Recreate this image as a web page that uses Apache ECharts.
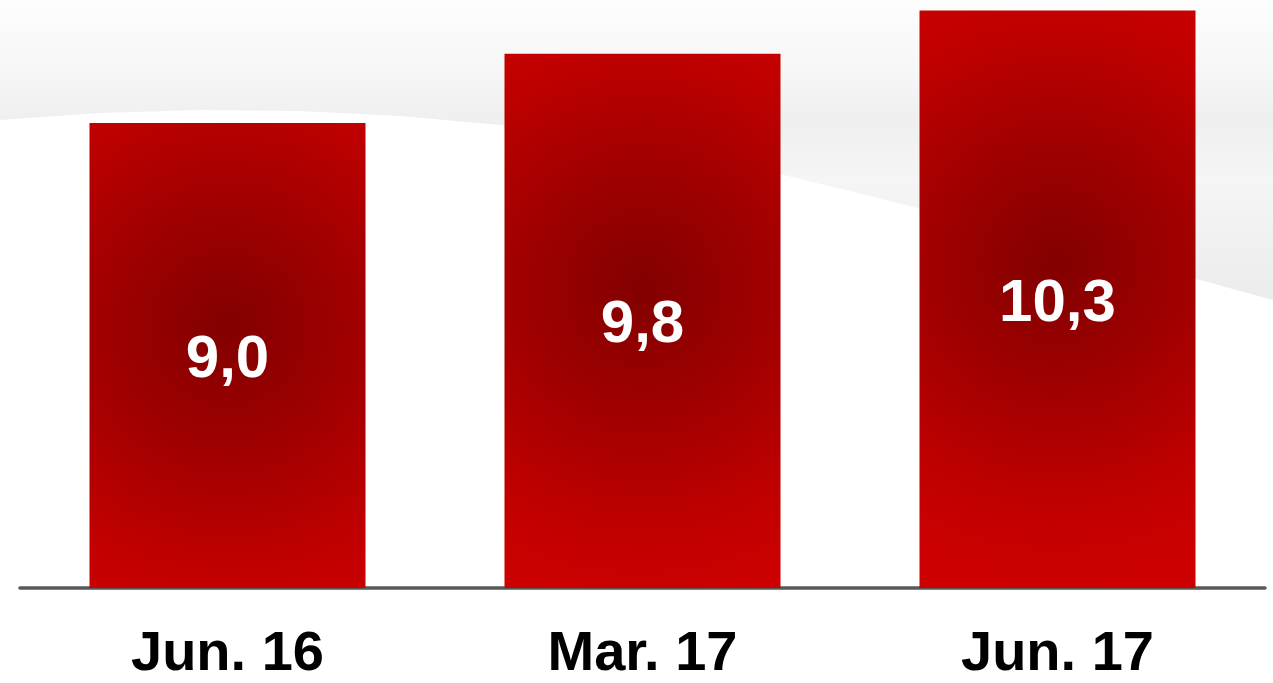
<!DOCTYPE html>
<html>
<head>
<meta charset="utf-8">
<script src="https://cdn.jsdelivr.net/npm/echarts@6/dist/echarts.min.js"></script>
<style>
html,body{margin:0;padding:0;background:#ffffff;}
#chart{width:1273px;height:683px;}
</style>
</head>
<body>
<div id="chart"></div>
<script>
const categories = ['Jun. 16', 'Mar. 17', 'Jun. 17'];
const values = [9.0, 9.8, 10.3];

const chart = echarts.init(document.getElementById('chart'), null, {renderer: 'canvas'});

const barGradient = {
  type: 'radial', x: 0.5, y: 0.44, r: 1.15,
  colorStops: [
    {offset: 0, color: '#820000'},
    {offset: 0.43, color: '#a40000'},
    {offset: 0.78, color: '#c20000'},
    {offset: 1, color: '#cc0000'}
  ]
};

const option = {
  backgroundColor: '#ffffff',
  animation: false,
  graphic: [
    {
      type: 'polygon',
      z: -10,
      silent: true,
      shape: {
        points: [[0,0],[1273,0],[1273,300],[1200,280],[1100,255],[1000,229],[925,210],[850,191],[775,173],[700,157],[600,139],[500,125],[400,116],[300,111],[200,110],[100,113],[0,120]]
      },
      style: {
        fill: {
          type: 'linear', x: 0, y: 0, x2: 0, y2: 1,
          colorStops: [
            {offset: 0, color: '#fdfdfd'},
            {offset: 0.22, color: '#f7f7f7'},
            {offset: 0.4, color: '#efefef'},
            {offset: 0.6, color: '#f5f5f5'},
            {offset: 1, color: '#ececec'}
          ]
        }
      }
    }
  ],
  grid: {left: 20, right: 8, top: 0, bottom: 93.5, containLabel: false},
  xAxis: {
    type: 'category',
    data: categories,
    axisLine: {show: true, lineStyle: {color: '#595959', width: 3.5}},
    axisTick: {show: false},
    axisLabel: {
      color: '#000000',
      fontFamily: 'Liberation Sans, Arial, sans-serif',
      fontWeight: 'bold',
      fontSize: 56,
      margin: 39
    }
  },
  yAxis: {
    type: 'value',
    min: 3.63,
    max: 10.42,
    show: false,
    splitLine: {show: false}
  },
  series: [{
    type: 'bar',
    data: values,
    barWidth: 276,
    itemStyle: {color: barGradient},
    label: {
      show: true,
      position: 'inside',
      offset: [0, 5],
      color: '#ffffff',
      fontFamily: 'Liberation Sans, Arial, sans-serif',
      fontWeight: 'bold',
      fontSize: 60,
      formatter: p => p.value.toFixed(1).replace('.', ',')
    }
  }]
};
chart.setOption(option);
</script>
</body>
</html>
